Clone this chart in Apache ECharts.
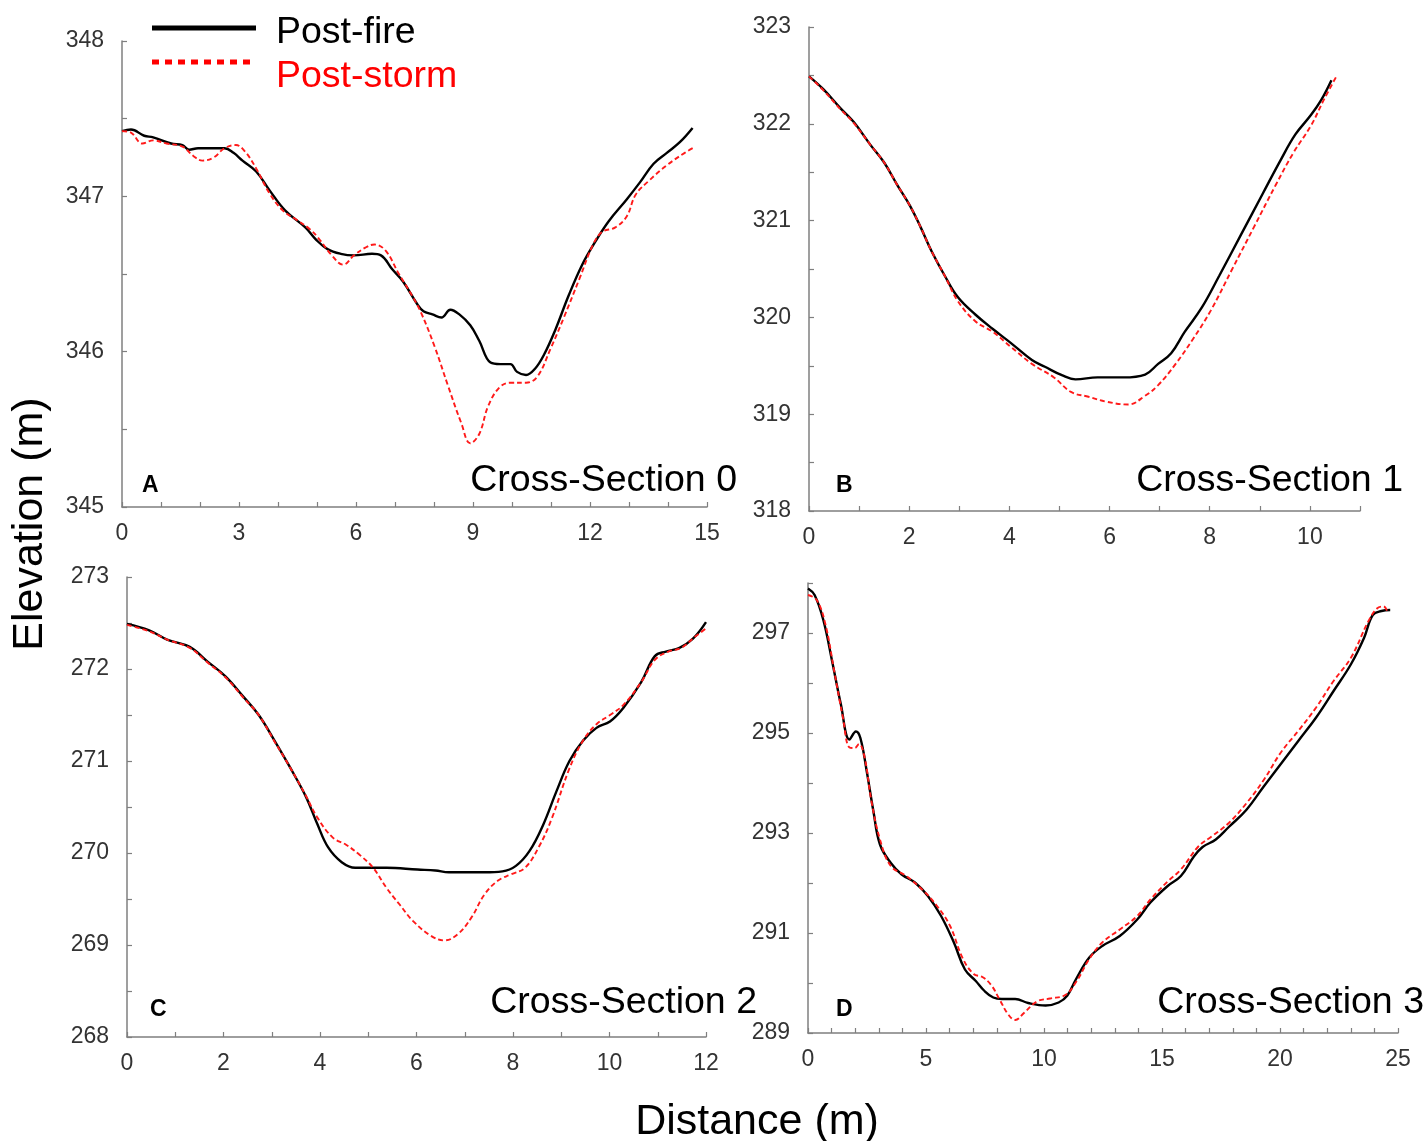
<!DOCTYPE html>
<html>
<head>
<meta charset="utf-8">
<script src="https://cdn.jsdelivr.net/npm/echarts@6/dist/echarts.min.js"></script>
<style>
html,body{margin:0;padding:0;background:#fff;}
#chart{width:1424px;height:1141px;}
</style>
</head>
<body>
<div id="chart"></div>
<script>
// ---------- Data ----------
const seriesNames = ['Post-fire', 'Post-storm'];
const panelTitles = ['Cross-Section 0', 'Cross-Section 1', 'Cross-Section 2', 'Cross-Section 3'];
const panelLetters = ['A', 'B', 'C', 'D'];

const xTicksA = [0, 3, 6, 9, 12, 15];
const yTicksA = [345, 346, 347, 348];
const xTicksB = [0, 2, 4, 6, 8, 10];
const yTicksB = [318, 319, 320, 321, 322, 323];
const xTicksC = [0, 2, 4, 6, 8, 10, 12];
const yTicksC = [268, 269, 270, 271, 272, 273];
const xTicksD = [0, 5, 10, 15, 20, 25];
const yTicksD = [289, 291, 293, 295, 297];

const secA_fire = [[0,347.42],[0.23,347.43],[0.57,347.39],[0.8,347.38],[1.26,347.34],[1.55,347.33],[1.72,347.30],[1.95,347.31],[2.29,347.31],[2.63,347.31],[2.86,347.28],[3.09,347.23],[3.44,347.16],[3.78,347.04],[4.18,346.91],[4.7,346.80],[4.98,346.72],[5.27,346.66],[5.61,346.63],[5.95,346.62],[6.41,346.63],[6.64,346.62],[6.93,346.53],[7.21,346.45],[7.56,346.31],[7.73,346.26],[7.96,346.24],[8.19,346.22],[8.42,346.27],[8.65,346.24],[8.93,346.17],[9.16,346.07],[9.45,345.93],[9.7,345.92],[9.96,345.92],[10.13,345.87],[10.36,345.85],[10.59,345.89],[10.82,345.98],[11.11,346.14],[11.45,346.36],[11.8,346.56],[12.14,346.71],[12.48,346.84],[12.94,346.98],[13.28,347.09],[13.63,347.21],[13.97,347.28],[14.31,347.35],[14.63,347.44]];
const secA_storm = [[0,347.42],[0.23,347.41],[0.52,347.34],[0.8,347.36],[1.14,347.34],[1.55,347.32],[1.83,347.26],[2.06,347.23],[2.35,347.25],[2.63,347.31],[2.92,347.33],[3.15,347.29],[3.44,347.18],[3.78,347.02],[4.12,346.91],[4.47,346.85],[4.81,346.79],[5.04,346.73],[5.38,346.62],[5.67,346.56],[5.95,346.62],[6.24,346.67],[6.47,346.69],[6.76,346.65],[7.1,346.50],[7.44,346.36],[7.67,346.25],[8.02,346.03],[8.36,345.78],[8.7,345.54],[8.93,345.41],[9.16,345.47],[9.39,345.65],[9.68,345.77],[9.96,345.80],[10.36,345.80],[10.65,345.84],[10.99,346.02],[11.33,346.22],[11.73,346.47],[12.08,346.69],[12.31,346.77],[12.65,346.80],[12.94,346.87],[13.17,347.01],[13.51,347.10],[13.97,347.20],[14.43,347.28],[14.7,347.32]];

const secB_fire = [[0,322.49],[0.28,322.36],[0.63,322.16],[0.89,322.02],[1.23,321.78],[1.5,321.60],[1.76,321.37],[2.02,321.15],[2.23,320.93],[2.45,320.68],[2.71,320.43],[2.97,320.21],[3.32,320.03],[3.67,319.88],[4.02,319.74],[4.45,319.56],[4.71,319.49],[5.06,319.40],[5.32,319.36],[5.76,319.38],[6.28,319.38],[6.71,319.41],[6.97,319.52],[7.23,319.63],[7.5,319.85],[7.84,320.10],[8.19,320.43],[8.63,320.86],[9.06,321.28],[9.41,321.62],[9.71,321.89],[10.02,322.09],[10.23,322.25],[10.43,322.45]];
const secB_storm = [[0,322.49],[0.28,322.35],[0.63,322.15],[0.89,322.01],[1.23,321.78],[1.5,321.60],[1.76,321.37],[2.02,321.15],[2.23,320.93],[2.45,320.68],[2.71,320.43],[2.97,320.17],[3.32,319.96],[3.67,319.85],[4.02,319.70],[4.45,319.52],[4.89,319.38],[5.23,319.23],[5.58,319.18],[5.93,319.13],[6.37,319.10],[6.71,319.19],[6.97,319.30],[7.32,319.52],[7.67,319.78],[8.02,320.07],[8.45,320.50],[8.89,320.94],[9.32,321.37],[9.67,321.70],[10.02,321.98],[10.28,322.25],[10.54,322.50]];

const secC_fire = [[0,272.49],[0.46,272.42],[0.83,272.32],[1.3,272.24],[1.67,272.08],[2.04,271.92],[2.41,271.70],[2.73,271.50],[3.06,271.22],[3.38,270.93],[3.71,270.61],[3.94,270.32],[4.17,270.06],[4.45,269.90],[4.73,269.84],[5.38,269.84],[6.02,269.82],[6.39,269.81],[6.67,269.79],[7.41,269.79],[7.78,269.80],[8.06,269.86],[8.34,270.02],[8.62,270.30],[8.9,270.67],[9.17,271.00],[9.45,271.22],[9.73,271.36],[10.01,271.43],[10.29,271.58],[10.66,271.86],[10.94,272.14],[11.17,272.19],[11.45,272.23],[11.73,272.33],[12,272.51]];
const secC_storm = [[0,272.48],[0.46,272.41],[0.83,272.32],[1.3,272.23],[1.67,272.07],[2.04,271.91],[2.41,271.69],[2.73,271.50],[3.06,271.21],[3.38,270.93],[3.71,270.62],[3.94,270.39],[4.26,270.17],[4.54,270.09],[4.82,269.98],[5.1,269.84],[5.38,269.62],[5.65,269.44],[5.93,269.26],[6.3,269.10],[6.58,269.05],[6.86,269.12],[7.14,269.30],[7.41,269.55],[7.69,269.70],[7.97,269.77],[8.25,269.84],[8.53,270.06],[8.8,270.37],[9.17,270.92],[9.45,271.22],[9.73,271.40],[10.01,271.50],[10.29,271.61],[10.66,271.86],[10.94,272.10],[11.22,272.19],[11.49,272.23],[11.77,272.35],[12,272.44]];

const secD_fire = [[0,297.89],[0.28,297.76],[0.65,297.26],[1.02,296.44],[1.39,295.58],[1.76,294.87],[2.03,295.03],[2.22,294.90],[2.49,294.23],[2.77,293.44],[3.05,292.77],[3.51,292.40],[3.97,292.17],[4.53,292.01],[5.08,291.74],[5.64,291.34],[6.19,290.80],[6.65,290.27],[7.11,290.04],[7.48,289.84],[7.85,289.71],[8.22,289.68],[8.78,289.68],[9.33,289.60],[10.07,289.55],[10.62,289.61],[10.99,289.75],[11.36,290.08],[11.92,290.51],[12.47,290.74],[13.21,290.94],[13.95,291.27],[14.51,291.61],[15.24,291.94],[15.8,292.14],[16.35,292.53],[16.72,292.72],[17.28,292.87],[17.83,293.12],[18.57,293.46],[19.31,293.93],[20.05,294.39],[20.79,294.85],[21.53,295.31],[22.27,295.84],[23,296.37],[23.56,296.90],[23.93,297.36],[24.3,297.44],[24.67,297.46]];
const secD_storm = [[0,297.76],[0.37,297.66],[0.74,297.17],[1.11,296.24],[1.48,295.31],[1.76,294.71],[1.98,294.70],[2.16,294.78],[2.4,294.51],[2.68,293.66],[3.05,292.87],[3.51,292.34],[4.16,292.14],[4.9,291.84],[5.45,291.55],[6.01,291.15],[6.56,290.49],[7.02,290.18],[7.39,290.12],[7.76,289.96],[8.13,289.66],[8.5,289.36],[8.78,289.26],[9.15,289.40],[9.7,289.63],[10.26,289.69],[10.9,289.76],[11.36,290.02],[11.92,290.48],[12.47,290.81],[13.21,291.07],[13.95,291.34],[14.51,291.67],[15.24,292.03],[15.8,292.27],[16.54,292.73],[17.1,292.93],[17.83,293.20],[18.57,293.59],[19.31,294.06],[20.05,294.62],[20.79,295.05],[21.53,295.51],[22.27,296.04],[23,296.50],[23.74,297.23],[24.11,297.49],[24.39,297.53],[24.58,297.39]];

// ---------- Layout / style ----------
const TICK_FONT = '"Liberation Sans Narrow", "Arial Narrow", "Liberation Sans", Arial, sans-serif';
const MAIN_FONT = '"Liberation Sans", Arial, sans-serif';
const AXIS_COLOR = '#7f7f7f';

const grids = [
  {left: 122, top: 41, width: 585, height: 466},
  {left: 809, top: 27, width: 551, height: 484},
  {left: 127, top: 577, width: 579, height: 460},
  {left: 808, top: 583, width: 590, height: 450}
];
const axisCfg = [
  {xmin:0, xmax:15, xint:1, xTicks:xTicksA, ymin:345, ymax:348, yint:0.5, yTicks:yTicksA},
  {xmin:0, xmax:11, xint:1, xTicks:xTicksB, ymin:318, ymax:323, yint:0.5, yTicks:yTicksB},
  {xmin:0, xmax:12, xint:1, xTicks:xTicksC, ymin:268, ymax:273, yint:0.5, yTicks:yTicksC},
  {xmin:0, xmax:25, xint:1, xTicks:xTicksD, ymin:289, ymax:298, yint:1, yTicks:yTicksD}
];
const fireData = [secA_fire, secB_fire, secC_fire, secD_fire];
const stormData = [secA_storm, secB_storm, secC_storm, secD_storm];

function near(list, v){ return list.some(t => Math.abs(t - v) < 1e-6); }

const xAxes = [], yAxes = [], series = [];
axisCfg.forEach((c, i) => {
  const common = {
    gridIndex: i, type: 'value',
    axisLine: {show: true, lineStyle: {color: AXIS_COLOR, width: 1.5}},
    axisTick: {show: true, inside: true, length: 5, lineStyle: {color: AXIS_COLOR, width: 1.2}},
    splitLine: {show: false}
  };
  xAxes.push(Object.assign({}, common, {
    min: c.xmin, max: c.xmax, interval: c.xint,
    axisLabel: {show: true, margin: 15, color: '#333', fontSize: 23, fontFamily: TICK_FONT,
      formatter: v => near(c.xTicks, v) ? String(v) : ''}
  }));
  yAxes.push(Object.assign({}, common, {
    min: c.ymin, max: c.ymax, interval: c.yint,
    axisLabel: {show: true, margin: 18, color: '#333', fontSize: 23, fontFamily: TICK_FONT,
      formatter: v => near(c.yTicks, v) ? String(v) : ''}
  }));
  series.push({
    name: seriesNames[0], type: 'line', xAxisIndex: i, yAxisIndex: i,
    data: fireData[i], showSymbol: false, smooth: 0.4, z: 3,
    lineStyle: {color: '#000', width: 2.4}
  });
  series.push({
    name: seriesNames[1], type: 'line', xAxisIndex: i, yAxisIndex: i,
    data: stormData[i], showSymbol: false, smooth: 0.4, z: 4,
    lineStyle: {color: '#ff1a1a', width: 1.9, type: [5, 3]}
  });
});

const titlePos = [
  {right: 737, y: 481}, {right: 1403, y: 481}, {right: 757, y: 1003}, {right: 1424, y: 1003}
];
const letterPos = [
  {x: 142, y: 486}, {x: 836, y: 486}, {x: 150, y: 1010}, {x: 836, y: 1010}
];

const graphic = [];
panelTitles.forEach((t, i) => {
  graphic.push({type: 'text', x: titlePos[i].right, y: titlePos[i].y, z: 10,
    style: {text: t, fill: '#000', font: '37.5px ' + MAIN_FONT, textAlign: 'right', textVerticalAlign: 'middle'}});
  graphic.push({type: 'text', x: letterPos[i].x, y: letterPos[i].y, z: 10,
    style: {text: panelLetters[i], fill: '#000', font: 'bold 23px ' + MAIN_FONT, textAlign: 'left', textVerticalAlign: 'middle'}});
});
// axis titles
graphic.push({type: 'text', x: 30, y: 524, rotation: Math.PI / 2, z: 10,
  style: {text: 'Elevation (m)', fill: '#000', font: '43px ' + MAIN_FONT, textAlign: 'center', textVerticalAlign: 'middle'}});
graphic.push({type: 'text', x: 757, y: 1122, z: 10,
  style: {text: 'Distance (m)', fill: '#000', font: '43px ' + MAIN_FONT, textAlign: 'center', textVerticalAlign: 'middle'}});
// legend
graphic.push({type: 'line', z: 10, shape: {x1: 152, y1: 28, x2: 256, y2: 28}, style: {stroke: '#000', lineWidth: 5}});
graphic.push({type: 'line', z: 10, shape: {x1: 152, y1: 62, x2: 252, y2: 62}, style: {stroke: '#ff0000', lineWidth: 5, lineDash: [7, 6]}});
graphic.push({type: 'text', x: 276, y: 33, z: 10,
  style: {text: seriesNames[0], fill: '#000', font: '37.5px ' + MAIN_FONT, textAlign: 'left', textVerticalAlign: 'middle'}});
graphic.push({type: 'text', x: 276, y: 77, z: 10,
  style: {text: seriesNames[1], fill: '#ff0000', font: '37.5px ' + MAIN_FONT, textAlign: 'left', textVerticalAlign: 'middle'}});

const chart = echarts.init(document.getElementById('chart'), null, {renderer: 'canvas'});
chart.setOption({
  backgroundColor: '#fff',
  animation: false,
  grid: grids.map(g => Object.assign({containLabel: false}, g)),
  xAxis: xAxes,
  yAxis: yAxes,
  series: series,
  graphic: graphic
});
</script>
</body>
</html>
